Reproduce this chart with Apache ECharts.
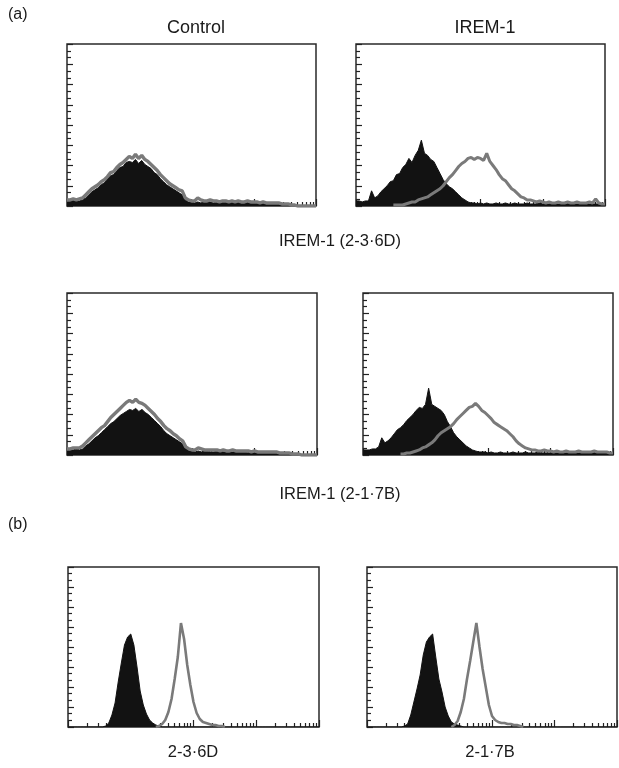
<!DOCTYPE html>
<html><head><meta charset="utf-8">
<script src="https://cdn.jsdelivr.net/npm/echarts@6/dist/echarts.min.js"></script>
<style>html,body{margin:0;padding:0;background:#fff}#c{width:619px;height:768px}</style>
</head><body><div id="c"></div>
<script>
// fluorescence channel grid: log10 intensity, 0..4 in 0.05 steps (81 bins)
const bins = Array.from({length: 81}, (_, i) => +(i * 0.05).toFixed(2));

// axis tick positions (log10 units)
const majorTicks = [0, 1, 2, 3, 4];
const minorTicks = [];
[0, 1, 2, 3].forEach(d => { [2,3,4,5,6,7,8,9].forEach(k => minorTicks.push(d + Math.log10(k))); });

// Panel 1: Control, IREM-1 (2-3·6D)
const p1Fill = [5,5,6,5,5,6,8,11,14,16, 18,21,23,27,30,31,35,38,39,43, 44,43,46,42,45,41,39,37,33,31,
  27,24,21,19,17,15,13,11,6,4, 4,3,4,3,4,5,4,3,4,3, 4,4,3,4,3,4,3,3,4,3, 3,3,2,3,2,3,2,2,2,1, 2,1,1,1,0,0,0,0,0,0,0];
const p1Line = [6,6,7,6,7,8,11,14,17,19, 21,24,26,29,33,34,38,41,43,46, 49,47,51,47,50,46,44,41,38,35,
  31,28,25,22,20,18,16,15,8,6, 5,5,8,6,5,5,6,5,5,4, 5,5,4,5,4,5,4,4,5,4, 4,4,3,4,3,3,3,3,3,2, 2,2,1,1,0,0,0,0,0,0,0];

// Panel 2: IREM-1, IREM-1 (2-3·6D)
const p2Fill = [5,5,4,5,5,15,8,10,14,17, 20,24,25,31,32,38,41,47,43,50, 55,65,52,50,46,44,38,32,26,22,
  19,17,14,11,8,6,4,3,3,2, 3,2,3,2,2,3,2,2,3,2, 2,3,2,2,2,3,2,2,2,3, 2,2,2,3,2,2,2,2,3,2, 2,2,2,2,3,2,2,2,2,2,2];
const p2Line = [null,null,null,null,null,null,null,null,null,null, null,null,1,1,1,1,2,3,4,4,
  6,7,8,9,11,13,15,17,20,24, 28,31,35,39,42,44,47,48,46,48, 47,45,52,44,40,36,31,27,25,21,
  17,15,12,9,8,6,6,5,4,5, 4,3,4,3,3,4,3,3,4,3, 3,4,3,3,3,4,3,7,3,2,2];

// Panel 3: Control, IREM-1 (2-1·7B)
const p3Fill = [4,5,5,6,5,6,9,11,14,17, 19,22,25,28,31,33,36,39,41,43, 45,44,46,43,45,42,40,37,34,31,
  28,24,21,19,17,15,13,11,7,4, 4,3,4,3,4,4,3,3,4,3, 3,4,3,3,4,3,3,3,2,3, 2,3,2,2,3,2,2,2,1,2, 1,1,1,1,1,0,0,0,0,0,0];
const p3Line = [6,6,7,7,7,9,12,15,18,21, 24,27,29,33,37,40,43,46,49,52, 54,52,55,52,51,49,46,43,40,36,
  33,29,26,24,21,19,16,14,8,6, 5,5,7,6,5,5,5,5,5,4, 5,4,4,5,4,4,4,4,4,3, 4,3,3,3,3,3,3,3,2,2, 2,2,1,1,1,0,0,0,0,0,0];

// Panel 4: IREM-1, IREM-1 (2-1·7B)
const p4Fill = [5,5,5,6,6,8,17,12,14,17, 21,25,27,30,34,37,40,44,47,46, 50,66,50,48,46,44,40,33,28,22,
  18,15,12,9,7,5,4,3,3,3, 2,3,2,2,3,2,2,2,3,2, 2,2,3,2,2,2,3,2,2,2, 2,3,2,2,2,2,3,2,2,2, 2,2,2,3,2,2,2,2,2,2,2];
const p4Line = [null,null,null,null,null,null,null,null,null,null, null,null,1,1,2,2,3,4,5,7,
  8,10,12,15,19,22,24,26,28,31, 35,38,41,44,47,48,51,48,44,42, 39,36,32,30,28,26,24,21,18,14,
  11,9,7,6,5,5,4,4,5,4, 4,3,4,3,3,4,3,3,3,4, 3,3,3,3,4,3,3,3,3,2,2];

// Panel 5: (b) 2-3·6D
const p5Fill = [0,0,0,0,0,0,0,0,0,0, 0,0,1,4,12,24,45,64,82,90, 93,82,60,36,22,13,7,4,2,1,
  0,0,0,0,0,0,0,0,0,0, 0,0,0,0,0,0,0,0,0,0, 0,0,0,0,0,0,0,0,0,0, 0,0,0,0,0,0,0,0,0,0, 0,0,0,0,0,0,0,0,0,0,0];
const p5Line = [null,null,null,null,null,null,null,null,null,null, null,null,null,null,null,null,null,null,null,null,
  null,null,null,null,null,null,null,null,0,1, 3,7,15,28,48,70,104,88,62,42, 25,14,8,5,4,3,2,2,1,1,
  0,null,null,null,null,null,null,null,null,null, null,null,null,null,null,null,null,null,null,null, null,null,null,null,null,null,null,null,null,null,null];

// Panel 6: (b) 2-1·7B
const p6Fill = [0,0,0,0,0,0,0,0,0,0, 0,0,1,3,12,25,38,52,72,85, 90,93,70,48,35,20,11,5,3,2,
  1,0,0,0,0,0,0,0,0,0, 0,0,0,0,0,0,0,0,0,0, 0,0,0,0,0,0,0,0,0,0, 0,0,0,0,0,0,0,0,0,0, 0,0,0,0,0,0,0,0,0,0,0];
const p6Line = [null,null,null,null,null,null,null,null,null,null, null,null,null,null,null,null,null,null,null,null,
  null,null,null,null,null,null,null,0,2,6, 15,28,48,66,85,104,80,58,40,22, 11,7,5,4,4,3,3,2,2,1,
  0,null,null,null,null,null,null,null,null,null, null,null,null,null,null,null,null,null,null,null, null,null,null,null,null,null,null,null,null,null,null];

const labels = [
  {t: '(a)', x: 8, y: 15, a: 'left', s: 16},
  {t: 'Control', x: 196, y: 28, a: 'center', s: 18},
  {t: 'IREM-1', x: 485, y: 28, a: 'center', s: 18},
  {t: 'IREM-1 (2-3·6D)', x: 340, y: 241, a: 'center', s: 16.5},
  {t: 'IREM-1 (2-1·7B)', x: 340, y: 494, a: 'center', s: 16.5},
  {t: '(b)', x: 8, y: 525, a: 'left', s: 16},
  {t: '2-3·6D', x: 193, y: 752, a: 'center', s: 16.5},
  {t: '2-1·7B', x: 490, y: 752, a: 'center', s: 16.5}
];

const panels = [
  {g: {left: 67, top: 44, width: 249, height: 162}, fill: p1Fill, line: p1Line, w: 3.4},
  {g: {left: 356, top: 44, width: 249, height: 162}, fill: p2Fill, line: p2Line, w: 3},
  {g: {left: 67, top: 293, width: 250, height: 162}, fill: p3Fill, line: p3Line, w: 3.4},
  {g: {left: 363, top: 293, width: 250, height: 162}, fill: p4Fill, line: p4Line, w: 3},
  {g: {left: 68, top: 567, width: 251, height: 160}, fill: p5Fill, line: p5Line, w: 2.6},
  {g: {left: 367, top: 567, width: 250, height: 160}, fill: p6Fill, line: p6Line, w: 2.6}
];

const tickStyle = {color: '#222', width: 1.2};
const option = {animation: false, backgroundColor: '#fff', grid: [], xAxis: [], yAxis: [], series: [], graphic: []};

panels.forEach((p, k) => {
  option.grid.push(Object.assign({show: true, borderColor: '#2a2a2a', borderWidth: 1.5, backgroundColor: 'transparent'}, p.g));
  const xBase = {gridIndex: k, type: 'value', min: 0, max: 4, position: 'bottom',
    axisLine: {show: false}, axisLabel: {show: false}, splitLine: {show: false}};
  option.xAxis.push(Object.assign({}, xBase, {axisTick: {show: true, inside: true, length: 7, customValues: majorTicks, lineStyle: tickStyle}}));
  option.xAxis.push(Object.assign({}, xBase, {axisTick: {show: true, inside: true, length: 4, customValues: minorTicks, lineStyle: tickStyle}}));
  option.yAxis.push({gridIndex: k, type: 'value', min: 0, max: 160, interval: 20,
    axisLine: {show: false}, axisLabel: {show: false}, splitLine: {show: false},
    axisTick: {show: true, inside: true, length: 6, lineStyle: tickStyle},
    minorTick: {show: true, splitNumber: 3, length: 4, lineStyle: tickStyle}});
  option.series.push({type: 'line', xAxisIndex: 2 * k, yAxisIndex: k, symbol: 'none', z: 2,
    data: bins.map((x, i) => [x, p.fill[i]]),
    lineStyle: {color: '#121212', width: 1}, areaStyle: {color: '#121212', opacity: 1}});
  option.series.push({type: 'line', xAxisIndex: 2 * k, yAxisIndex: k, symbol: 'none', z: 3,
    data: bins.map((x, i) => [x, p.line[i]]),
    lineStyle: {color: '#7a7a7a', width: p.w}});
});

labels.forEach(l => option.graphic.push({type: 'text', x: l.x, y: l.y,
  style: {text: l.t, font: l.s + 'px "Liberation Sans", Arial, sans-serif', fill: '#1a1a1a',
    textAlign: l.a, textVerticalAlign: 'middle', align: l.a, verticalAlign: 'middle'}}));

const chart = echarts.init(document.getElementById('c'), null, {renderer: 'canvas'});
chart.setOption(option);
</script>
</body></html>
